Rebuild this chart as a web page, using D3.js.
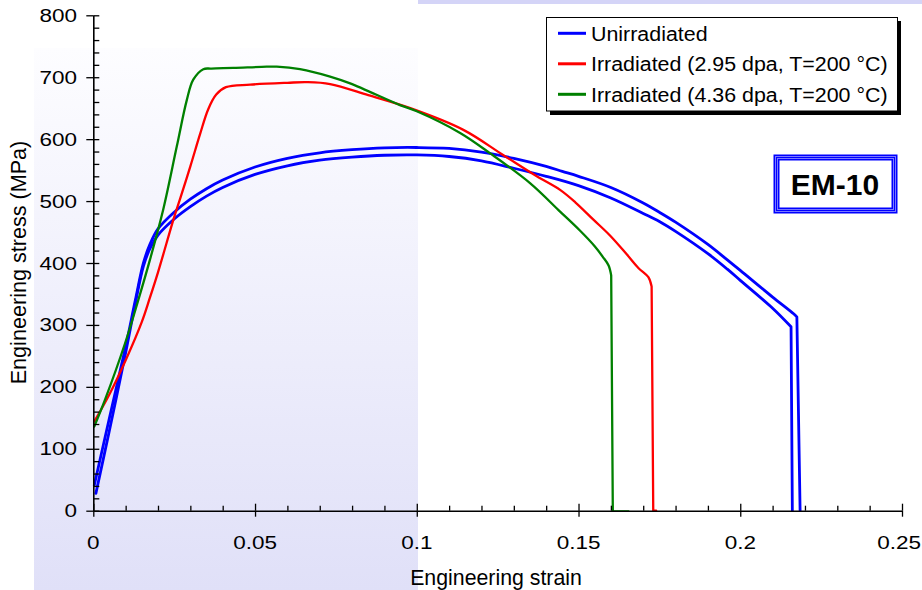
<!DOCTYPE html>
<html>
<head>
<meta charset="utf-8">
<script src="https://cdn.jsdelivr.net/npm/d3@7"></script>
<style>
  html, body { margin: 0; padding: 0; background: #ffffff; }
  svg { display: block; font-family: "Liberation Sans", Arial, sans-serif; }
</style>
</head>
<body>
<svg id="chart" width="922" height="590"></svg>
<script>
// ---------------- data ----------------
const seriesNames = ["Unirradiated", "Irradiated (2.95 dpa, T=200 °C)", "Irradiated (4.36 dpa, T=200 °C)"];

// Unirradiated, specimen A (upper curve)
const unirrAStrain = [0.0003,0.005,0.01,0.013,0.0155,0.0175,0.02,0.025,0.03,0.035,0.04,0.05,0.06,0.07,0.08,0.09,0.1,0.11,0.12,0.13,0.14,0.145,0.15,0.16,0.17,0.175,0.18,0.19,0.196,0.2,0.21,0.2165,0.2175,0.2185];
const unirrAStress = [41,150,265,340,400,430,455,482,503,520,534,555,569,578,583,586,586.5,585,579,569,556,548,540,522,497,482,466,430,405,388,345,318,313,0];

// Unirradiated, specimen B (lower curve)
const unirrBStrain = [0.0008,0.005,0.01,0.013,0.0155,0.0175,0.02,0.025,0.03,0.035,0.04,0.05,0.06,0.07,0.08,0.09,0.1,0.11,0.12,0.13,0.14,0.15,0.16,0.17,0.175,0.18,0.19,0.196,0.2,0.21,0.2157,0.2161];
const unirrBStress = [28,130,255,335,395,423,445,471,491,508,522,543,557,566,571,574,574.5,572,565,553,540,525,505,480,467,451,415,390,372,327,297,0];

// Irradiated 2.95 dpa
const irr295Strain = [0.0003,0.005,0.01,0.015,0.0175,0.02,0.025,0.0268,0.03,0.033,0.0355,0.038,0.041,0.0485,0.06,0.066,0.0732,0.085,0.098,0.1144,0.1268,0.1371,0.1443,0.149,0.1546,0.1598,0.1649,0.1685,0.1716,0.1726,0.1731,0.1740];
const irr295Stress = [144,188,243,305,344,385,474,503,556,608,648,672,684,688,691,692,689,671,650,615,574,540,518,498,470,444,414,392,377,362,0,0];

// Irradiated 4.36 dpa
const irr436Strain = [0.0003,0.0036,0.0098,0.0139,0.0175,0.0216,0.0258,0.0289,0.0309,0.034,0.0365,0.0433,0.0536,0.0567,0.0639,0.0732,0.0794,0.0948,0.1,0.1134,0.1227,0.135,0.1443,0.1505,0.155,0.1575,0.1593,0.1601,0.1606];
const irr436Stress = [136,179,270,340,405,486,588,663,696,713,714,715,717,717,713,701,690,655,645,610,577,529,483,452,427,410,396,380,0];
// short tail of 4.36 dpa record along the zero line
const irr436TailStrain = [0.1606,0.1655];
const irr436TailStress = [0,0];

const xMajorTicks = [0,0.05,0.1,0.15,0.2,0.25];
const xTickLabels = ["0","0.05","0.1","0.15","0.2","0.25"];
const xMinorTicks = d3.range(0,26).map(i => i/100);
const yMajorTicks = [0,100,200,300,400,500,600,700,800];
const yTickLabels = ["0","100","200","300","400","500","600","700","800"];
const yMinorTicks = d3.range(0,41).map(i => i*20);

const xTitle = "Engineering strain";
const yTitle = "Engineering stress (MPa)";
const badgeText = "EM-10";

// ---------------- drawing ----------------
const svg = d3.select("#chart");
const x = d3.scaleLinear().domain([0,0.25]).range([93.3,902]);
const y = d3.scaleLinear().domain([0,800]).range([510.7,15.3]);

// background decorations
const defs = svg.append("defs");
const grad = defs.append("linearGradient").attr("id","bgGrad").attr("x1",0).attr("y1",0).attr("x2",0).attr("y2",1);
grad.append("stop").attr("offset","0%").attr("stop-color","#fdfdff");
grad.append("stop").attr("offset","100%").attr("stop-color","#e0e0f8");
svg.append("rect").attr("x",34).attr("y",48).attr("width",384).attr("height",542).attr("fill","url(#bgGrad)");
svg.append("rect").attr("x",418).attr("y",0).attr("width",504).attr("height",4).attr("fill","#d4d4f7");

// curves: smooth through the test record, straight for the fracture drop
const zip = (a,b) => a.map((v,i)=>[v,b[i]]);
const smooth = d3.line().x(d=>x(d[0])).y(d=>y(d[1])).curve(d3.curveCatmullRom.alpha(0.5));
const straight = d3.line().x(d=>x(d[0])).y(d=>y(d[1])).curve(d3.curveLinear);
function pathFor(pts){
  const z = pts.findIndex(p=>p[1]===0);
  if (z <= 0) return straight(pts);
  const a = smooth(pts.slice(0, z));
  const b = straight(pts.slice(z-1));
  return a + "L" + b.slice(1);
}
const curves = [
  {d: zip(irr436TailStrain, irr436TailStress), c:"#3fae3f", w:1.6},
  {d: zip(unirrAStrain, unirrAStress), c:"#0000ff", w:2.8},
  {d: zip(unirrBStrain, unirrBStress), c:"#0000ff", w:2.8},
  {d: zip(irr295Strain, irr295Stress), c:"#ff0000", w:2.3},
  {d: zip(irr436Strain, irr436Stress), c:"#008000", w:2.3},
];
svg.append("g").selectAll("path").data(curves).join("path")
  .attr("d", c=>pathFor(c.d)).attr("fill","none")
  .attr("stroke", c=>c.c).attr("stroke-width", c=>c.w)
  .attr("stroke-linejoin","round").attr("stroke-linecap","round");

// axes
const axisY0 = y(0), axisX0 = x(0);
const gx1 = svg.append("g").attr("transform",`translate(0,${axisY0})`)
  .call(d3.axisBottom(x).tickValues(xMajorTicks).tickSize(6).tickSizeOuter(0).tickFormat(""));
const gx2 = svg.append("g").attr("transform",`translate(0,${axisY0})`)
  .call(d3.axisTop(x).tickValues(xMinorTicks.filter(v=>Math.abs(v*20-Math.round(v*20))>1e-6)).tickSize(5).tickSizeOuter(0).tickFormat(""));
const gx3 = svg.append("g").attr("transform",`translate(0,${axisY0})`)
  .call(d3.axisTop(x).tickValues(xMajorTicks).tickSize(7).tickSizeOuter(0).tickFormat(""));
const gy1 = svg.append("g").attr("transform",`translate(${axisX0},0)`)
  .call(d3.axisLeft(y).tickValues(yMajorTicks).tickSize(7).tickSizeOuter(0).tickFormat(""));
const gy2 = svg.append("g").attr("transform",`translate(${axisX0},0)`)
  .call(d3.axisRight(y).tickValues(yMinorTicks).tickSize(6).tickSizeOuter(0).tickFormat(""));
[gx1,gx2,gx3,gy1,gy2].forEach(g=>{
  g.selectAll("line").attr("stroke","#000").attr("stroke-width",1.3);
  g.select(".domain").attr("stroke","#000").attr("stroke-width",1.6);
});
[gx2,gx3,gy2].forEach(g=>g.select(".domain").remove());

// tick labels (stretched horizontally as in the reference)
svg.append("g").selectAll("text").data(xMajorTicks).join("text")
  .attr("transform",(d,i)=> i===xMajorTicks.length-1
      ? `translate(921,548.5) scale(1.25,1)`
      : `translate(${x(d)},548.5) scale(1.25,1)`)
  .attr("text-anchor",(d,i)=> i===xMajorTicks.length-1 ? "end" : "middle")
  .attr("font-size",18).attr("fill","#000")
  .text((d,i)=>xTickLabels[i]);
svg.append("g").selectAll("text").data(yMajorTicks).join("text")
  .attr("transform",(d)=>`translate(77,${y(d)+6.5}) scale(1.25,1)`)
  .attr("text-anchor","end").attr("font-size",18).attr("fill","#000")
  .text((d,i)=>yTickLabels[i]);

// axis titles
svg.append("text").attr("x",496).attr("y",585).attr("text-anchor","middle")
  .attr("font-size",21.3).attr("fill","#000").text(xTitle);
svg.append("text").attr("transform","translate(26,262.5) rotate(-90)").attr("text-anchor","middle")
  .attr("font-size",21.6).attr("fill","#000").text(yTitle);

// legend
const lg = svg.append("g");
lg.append("rect").attr("x",550).attr("y",21).attr("width",351).attr("height",94).attr("fill","#000");
lg.append("rect").attr("x",546.5).attr("y",17.5).attr("width",351).attr("height",93.5).attr("fill","#fff").attr("stroke","#000").attr("stroke-width",1);
const legColors = ["#0000ff","#ff0000","#008000"];
const legRows = lg.selectAll("g.row").data(seriesNames).join("g").attr("class","row")
  .attr("transform",(d,i)=>`translate(0,${33.3+i*30.5})`);
legRows.append("line").attr("x1",558).attr("x2",586).attr("y1",0).attr("y2",0)
  .attr("stroke",(d,i)=>legColors[i]).attr("stroke-width",3);
legRows.append("text").attr("transform","translate(591,7.3) scale(1.07,1)")
  .attr("font-size",20).attr("fill","#000").text(d=>d);

// EM-10 badge
const bg = svg.append("g");
bg.append("rect").attr("x",773.5).attr("y",154.5).attr("width",124).attr("height",59).attr("fill","#0000ff");
bg.append("rect").attr("x",775.5).attr("y",156.5).attr("width",120).attr("height",55).attr("fill","none").attr("stroke","#7a7aff").attr("stroke-width",1);
bg.append("rect").attr("x",777.5).attr("y",158.5).attr("width",116).attr("height",51).attr("fill","none").attr("stroke","#7a7aff").attr("stroke-width",1);
bg.append("rect").attr("x",779.5).attr("y",160.5).attr("width",112).attr("height",47).attr("fill","#fff");
bg.append("text").attr("x",835).attr("y",195).attr("text-anchor","middle")
  .attr("font-size",30).attr("font-weight","bold").attr("fill","#000").text(badgeText);
</script>
</body>
</html>
